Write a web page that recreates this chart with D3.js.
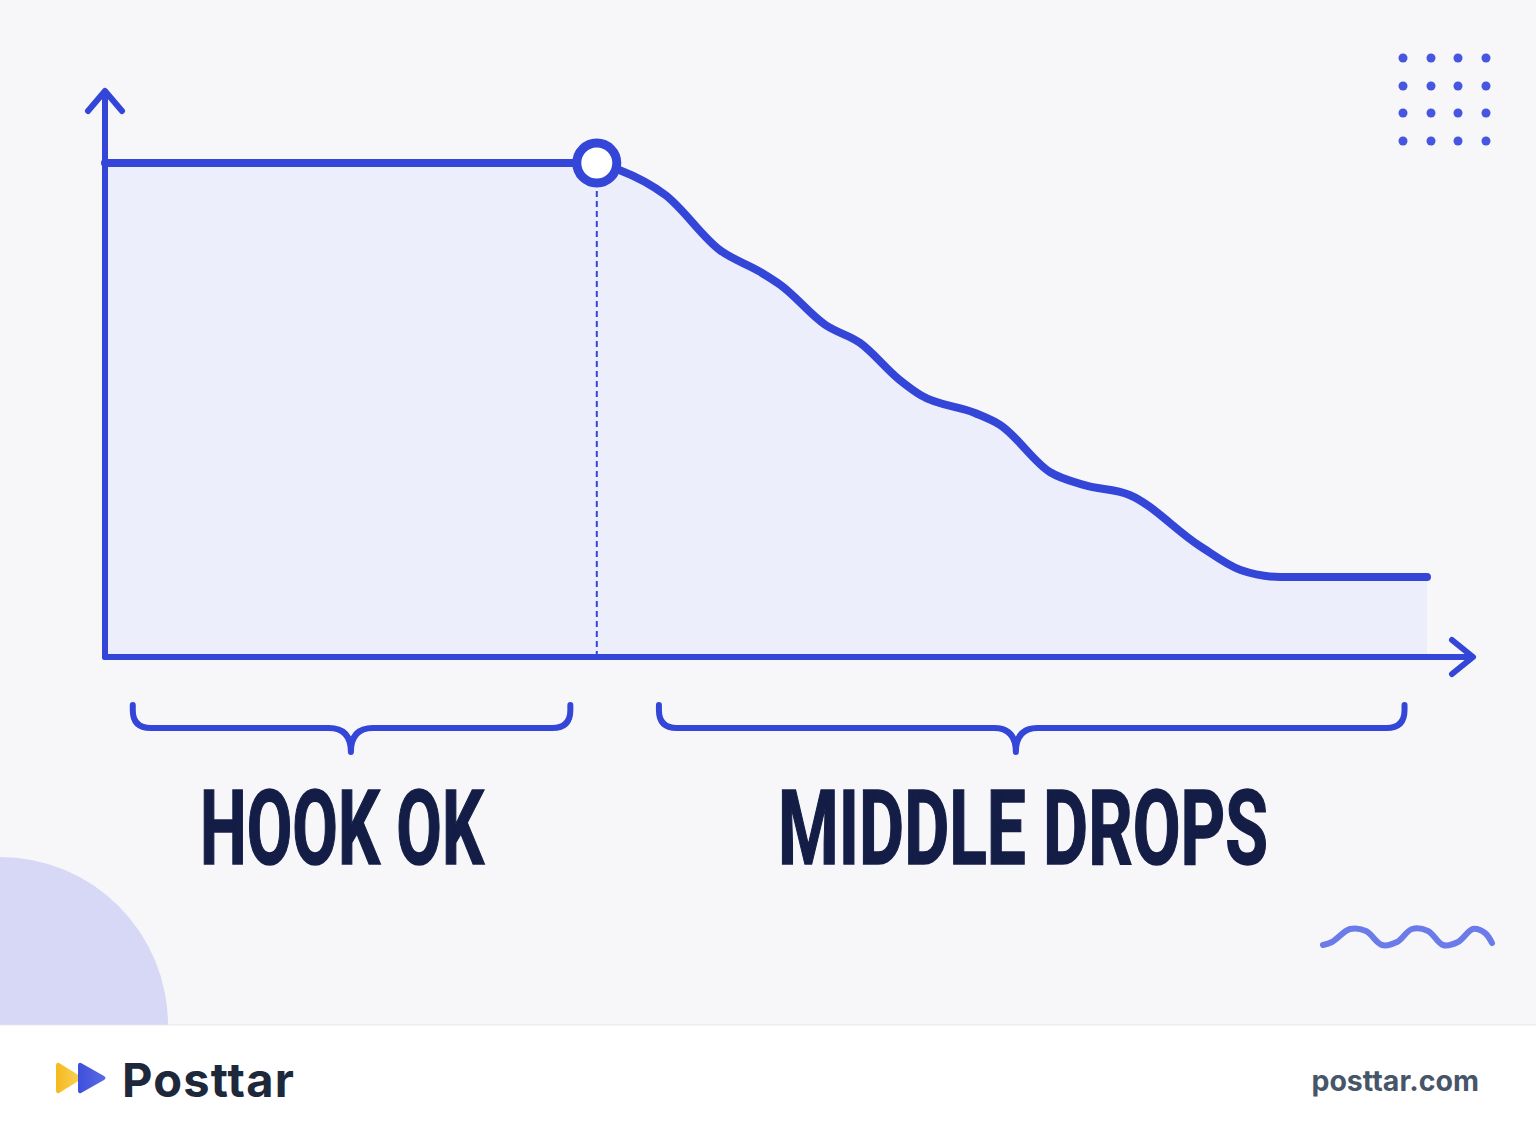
<!DOCTYPE html>
<html>
<head>
<meta charset="utf-8">
<script src="https://cdn.jsdelivr.net/npm/d3@7"></script>
<style>
  html, body { margin: 0; padding: 0; background: #f7f7f9; }
  svg { display: block; }
</style>
</head>
<body>
<script>
// ---- data ----
const timePct   = [0, 37.2, 38.9, 42.4, 46.5, 49.6, 51.1, 54.5, 57.1, 60.1, 61.7, 65.8, 67.7, 71.5, 74.1, 77.5, 82.8, 85.9, 88.9, 100];
const retention = [100, 100, 98.6, 93.5, 82.4, 77.9, 75.3, 67.2, 63.6, 56.1, 53.0, 49.4, 47.0, 37.4, 34.8, 32.8, 22.5, 17.6, 16.2, 16.2];
const hookEnd = 37.2;
const segmentLabels = ["HOOK OK", "MIDDLE DROPS"];
const segmentRanges = [[2.1, 35.2], [41.9, 98.3]];
const segmentMids = [18.6, 68.9];
const brand = "Posttar";
const site = "posttar.com";

const W = 1536, H = 1136;
const svg = d3.select("body").append("svg").attr("width", W).attr("height", H);

// background
svg.append("rect").attr("width", W).attr("height", H).attr("fill", "#f7f7f9");
// decorative blob bottom-left
svg.append("circle").attr("cx", 0).attr("cy", 1025).attr("r", 168).attr("fill", "#d6d8f6");
// footer
svg.append("rect").attr("x", 0).attr("y", 1025).attr("width", W).attr("height", H - 1025).attr("fill", "#ffffff");
svg.append("line").attr("x1", 0).attr("x2", W).attr("y1", 1025).attr("y2", 1025).attr("stroke", "#e6e7ec").attr("stroke-width", 1);

const x = d3.scaleLinear().domain([0, 100]).range([105, 1427]);
const y = d3.scaleLinear().domain([0, 100]).range([657, 163]);

const blue = "#3446d8";
const data = timePct.map((t, i) => ({ t, r: retention[i] }));

// area
const area = d3.area().x(d => x(d.t)).y0(y(0)).y1(d => y(d.r)).curve(d3.curveMonotoneX);
svg.append("path").datum(data).attr("d", area).attr("fill", "#eceefb");

// dashed marker line
svg.append("line")
  .attr("x1", x(hookEnd)).attr("x2", x(hookEnd))
  .attr("y1", y(100) + 18).attr("y2", y(0))
  .attr("stroke", blue).attr("stroke-width", 2).attr("stroke-dasharray", "6,4");

// axes
const g = svg.append("g").attr("fill", "none").attr("stroke", blue)
  .attr("stroke-width", 6).attr("stroke-linecap", "round").attr("stroke-linejoin", "round");
g.append("path").attr("d", d3.line()([[x(0), y(0)], [x(0), 92]]));
g.append("path").attr("d", d3.line()([[88, 111], [x(0), 91], [122, 111]]));
g.append("path").attr("d", d3.line()([[x(0), y(0)], [1472, y(0)]]));
g.append("path").attr("d", d3.line()([[1452, 640], [1473, y(0)], [1452, 674]]));

// curve
const line = d3.line().x(d => x(d.t)).y(d => y(d.r)).curve(d3.curveMonotoneX);
svg.append("path").datum(data).attr("d", line)
  .attr("fill", "none").attr("stroke", blue).attr("stroke-width", 8)
  .attr("stroke-linecap", "round").attr("stroke-linejoin", "round");

// hook marker
svg.append("circle").attr("cx", x(hookEnd)).attr("cy", y(100)).attr("r", 20)
  .attr("fill", "#ffffff").attr("stroke", blue).attr("stroke-width", 9);

// braces
function brace(x0, x1, cx) {
  const top = 705, mid = 728, tip = 752, r = 18;
  return `M${x0},${top} L${x0},${mid - r} Q${x0},${mid} ${x0 + r},${mid} L${cx - 22},${mid} Q${cx},${mid} ${cx},${tip}` +
         ` M${x1},${top} L${x1},${mid - r} Q${x1},${mid} ${x1 - r},${mid} L${cx + 22},${mid} Q${cx},${mid} ${cx},${tip}`;
}
segmentRanges.forEach((rg, i) => {
  svg.append("path").attr("d", brace(x(rg[0]), x(rg[1]), x(segmentMids[i])))
    .attr("fill", "none").attr("stroke", blue).attr("stroke-width", 6)
    .attr("stroke-linecap", "round").attr("stroke-linejoin", "round");
});

// labels
const labelLens = [284, 490];
segmentLabels.forEach((lab, i) => {
  const cx = i === 0 ? 342 : 1023;
  svg.append("text").attr("x", cx - labelLens[i] / 2).attr("y", 864)
    .attr("textLength", labelLens[i]).attr("lengthAdjust", "spacingAndGlyphs")
    .attr("font-family", "Roboto, 'DejaVu Sans', sans-serif").attr("font-weight", 700)
    .attr("font-size", 104).attr("fill", "#131d46")
    .attr("stroke", "#131d46").attr("stroke-width", 1.5).text(lab);
});

// dot grid
const dotXs = [1403, 1431, 1458, 1486], dotYs = [58, 86, 113, 141];
dotYs.forEach(dy => dotXs.forEach(dx => {
  svg.append("circle").attr("cx", dx).attr("cy", dy).attr("r", 4.5).attr("fill", "#4656e0");
}));

// wave
const wave = d3.line().curve(d3.curveCatmullRom)(
  [[1323, 945], [1332, 942], [1350, 929], [1366, 931], [1382, 945], [1397, 942], [1412, 929], [1428, 931], [1443, 945], [1458, 942], [1473, 929], [1485, 933], [1492, 943]]
);
svg.append("path").attr("d", wave).attr("fill", "none").attr("stroke", "#6b7be9")
  .attr("stroke-width", 6).attr("stroke-linecap", "round").attr("stroke-linejoin", "round");

// footer logo
const defs = svg.append("defs");
const gy = defs.append("linearGradient").attr("id", "gy");
gy.append("stop").attr("offset", "0").attr("stop-color", "#f6b91e");
gy.append("stop").attr("offset", "1").attr("stop-color", "#f7d35a");
const gb = defs.append("linearGradient").attr("id", "gb");
gb.append("stop").attr("offset", "0").attr("stop-color", "#3e4fdc");
gb.append("stop").attr("offset", "1").attr("stop-color", "#5b6be3");
svg.append("path").attr("d", "M59,1063 Q56,1062 56,1066 L56,1090 Q56,1094 59,1093 L80,1080 Q83,1078 80,1076 Z").attr("fill", "url(#gy)");
svg.append("path").attr("d", "M81,1063 Q78,1062 78,1066 L78,1090 Q78,1094 81,1093 L104,1080 Q107,1078 104,1076 Z").attr("fill", "url(#gb)");
svg.append("text").attr("x", 122).attr("y", 1097)
  .attr("font-family", "Inter, Roboto, sans-serif").attr("font-weight", 700)
  .attr("font-size", 47).attr("letter-spacing", 1.2).attr("fill", "#1d283b").text(brand);
svg.append("text").attr("x", 1479).attr("y", 1091).attr("text-anchor", "end")
  .attr("font-family", "Inter, Roboto, sans-serif").attr("font-weight", 700)
  .attr("font-size", 28.5).attr("fill", "#475569").text(site);
</script>
</body>
</html>
